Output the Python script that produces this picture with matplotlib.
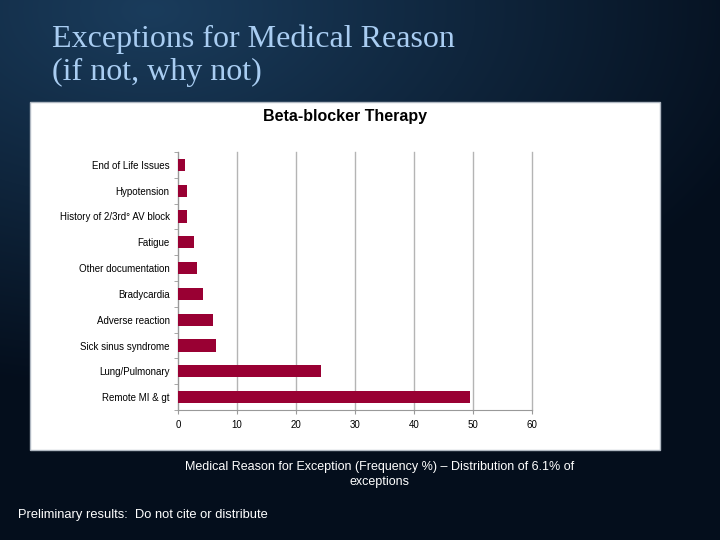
import numpy as np
import matplotlib
matplotlib.use("Agg")
import matplotlib.pyplot as plt
from matplotlib.patches import Rectangle

# Data (top to bottom)
reasons = [
    "End of Life Issues",
    "Hypotension",
    "History of 2/3rd° AV block",
    "Fatigue",
    "Other documentation",
    "Bradycardia",
    "Adverse reaction",
    "Sick sinus syndrome",
    "Lung/Pulmonary",
    "Remote MI & gt",
]
frequency = [1.2, 1.6, 1.6, 2.7, 3.2, 4.3, 5.9, 6.4, 24.3, 49.5]
xticks = [0, 10, 20, 30, 40, 50, 60]

W, H = 720, 540
fig = plt.figure(figsize=(W / 100, H / 100), dpi=100)

# dark slide background with a lighter glow in the upper left
bg = fig.add_axes([0, 0, 1, 1])
yy, xx = np.mgrid[0:H, 0:W]
d = np.sqrt(((xx - 150) / 650.0) ** 2 + ((yy - 10) / 380.0) ** 2)
t = np.clip(d, 0, 1)[..., None]
light = np.array([0x1a, 0x3c, 0x5c]) / 255.0
dark = np.array([0x04, 0x0e, 0x1c]) / 255.0
img = light * (1 - t) + dark * t
bg.imshow(img, extent=[0, W, H, 0], aspect="auto")
bg.set_xlim(0, W)
bg.set_ylim(H, 0)
bg.axis("off")

# white chart panel
bg.add_patch(Rectangle((30, 102), 630, 348, facecolor="white",
                       edgecolor="#b0b8c2", linewidth=1))

# slide title
bg.text(52, 39, "Exceptions for Medical Reason", family="Liberation Serif",
        fontsize=23, color="#a9cdf2", va="center", ha="left")
bg.text(52, 72, "(if not, why not)", family="Liberation Serif",
        fontsize=23, color="#a9cdf2", va="center", ha="left")

# chart title
bg.text(345, 117, "Beta-blocker Therapy", family="Liberation Sans",
        fontsize=11.5, fontweight="bold", color="black", ha="center", va="center")

# caption and footer
cap_font = ["Liberation Sans Narrow", "Liberation Sans"]
bg.text(380, 467, "Medical Reason for Exception (Frequency %) \u2013 Distribution of 6.1% of",
        family=cap_font, fontsize=9, color="white", ha="center", va="center")
bg.text(380, 482, "exceptions", family=cap_font, fontsize=9, color="white",
        ha="center", va="center")
bg.text(18, 515, "Preliminary results:  Do not cite or distribute", family=cap_font,
        fontsize=9.3, color="white", ha="left", va="center")

# bar chart
ax = fig.add_axes([178 / W, (H - 410) / H, 354 / W, 258 / H])
y = np.arange(len(reasons))
ax.barh(y, frequency, height=0.48, color="#990033", zorder=3)
ax.set_ylim(len(reasons) - 0.5, -0.5)
ax.set_xlim(0, 60)
ax.set_xticks(xticks)
ax.set_yticks(y)
ax.set_yticklabels(reasons, family="Liberation Sans", fontsize=7)
ax.set_yticks(np.arange(-0.5, len(reasons)), minor=True)
ax.tick_params(axis="y", which="major", length=0, pad=6)
ax.tick_params(axis="y", which="minor", length=3, color="#999999")
ax.tick_params(axis="x", length=3, color="#999999", labelsize=7, pad=4)
for lab in ax.get_xticklabels():
    lab.set_family("Liberation Sans")
ax.grid(axis="x", color="#b4b4b4", linewidth=1, zorder=0)
for gl in ax.get_xgridlines():
    gl.set_clip_on(False)
for s in ["top", "right"]:
    ax.spines[s].set_visible(False)
ax.spines["left"].set_color("#999999")
ax.spines["bottom"].set_color("#999999")
ax.set_facecolor("white")

fig.savefig("out.png", dpi=100)
